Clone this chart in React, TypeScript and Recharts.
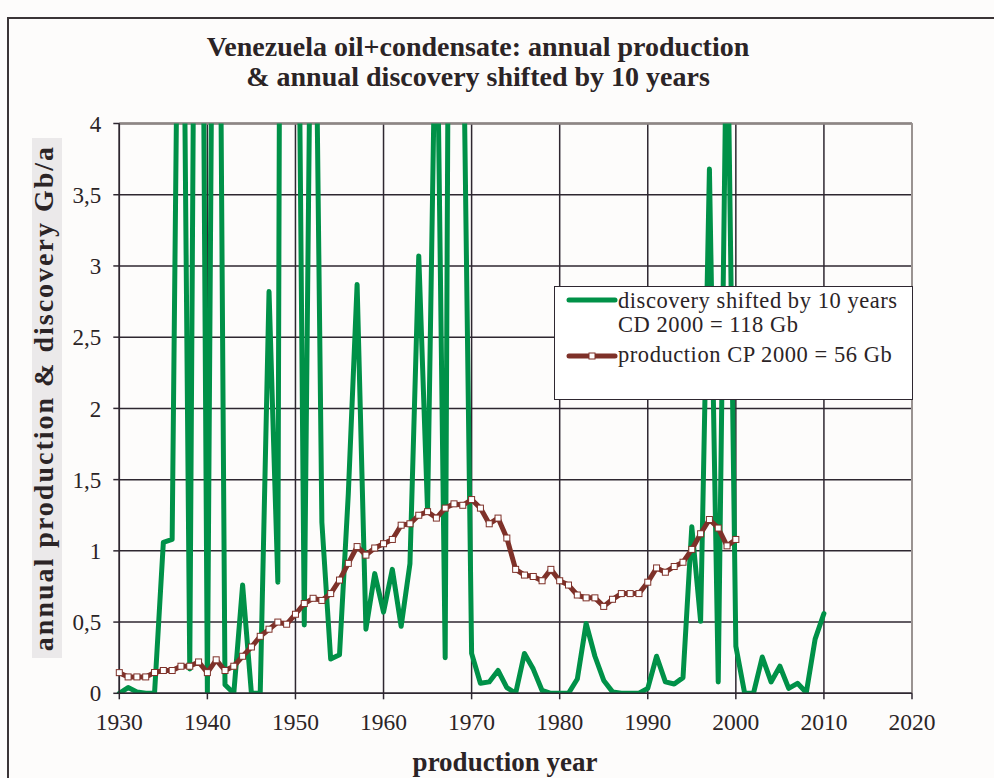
import React from 'react';
import { LineChart, Line, XAxis, YAxis, CartesianGrid, ReferenceLine, Legend } from 'recharts';

const years = [
  1930, 1931, 1932, 1933, 1934, 1935, 1936, 1937, 1938, 1939,
  1940, 1941, 1942, 1943, 1944, 1945, 1946, 1947, 1948, 1949,
  1950, 1951, 1952, 1953, 1954, 1955, 1956, 1957, 1958, 1959,
  1960, 1961, 1962, 1963, 1964, 1965, 1966, 1967, 1968, 1969,
  1970, 1971, 1972, 1973, 1974, 1975, 1976, 1977, 1978, 1979,
  1980, 1981, 1982, 1983, 1984, 1985, 1986, 1987, 1988, 1989,
  1990, 1991, 1992, 1993, 1994, 1995, 1996, 1997, 1998, 1999,
  2000, 2001, 2002, 2003, 2004, 2005, 2006, 2007, 2008, 2009,
  2010,
];

// discovery shifted by 10 years (Gb/a)
const discovery = [
  0.0, 0.04, 0.01, 0.0, 0.0, 1.06, 1.08, 7.2, 0.17, 10.0,
  0.0, 9.0, 0.06, 0.0, 0.76, 0.0, 0.0, 2.82, 0.78, 20.0,
  7.6, 0.48, 6.6, 1.2, 0.24, 0.27, 1.4, 2.87, 0.45, 0.84,
  0.57, 0.87, 0.47, 0.91, 3.07, 1.28, 5.2, 0.25, 13.0, 5.0,
  0.28, 0.07, 0.08, 0.16, 0.04, 0.0, 0.28, 0.17, 0.02, 0.0,
  0.0, 0.0, 0.1, 0.49, 0.26, 0.09, 0.01, 0.0, 0.0, 0.0,
  0.035, 0.26, 0.08, 0.065, 0.11, 1.17, 0.505, 3.68, 0.08, 5.0,
  0.33, 0.0, 0.0, 0.255, 0.08, 0.19, 0.035, 0.07, 0.005, 0.38,
  0.56,
];

// annual production 1930-2000 (Gb/a)
const production = [
  0.145, 0.115, 0.115, 0.115, 0.146, 0.16, 0.16, 0.19, 0.19, 0.22,
  0.145, 0.235, 0.16, 0.19, 0.26, 0.325, 0.4, 0.45, 0.5, 0.485,
  0.555, 0.63, 0.667, 0.652, 0.7, 0.795, 0.912, 1.03, 0.97, 1.02,
  1.05, 1.08, 1.18, 1.19, 1.25, 1.275, 1.23, 1.3, 1.33, 1.32,
  1.36, 1.3, 1.19, 1.23, 1.09, 0.87, 0.83, 0.82, 0.79, 0.87,
  0.79, 0.76, 0.69, 0.67, 0.67, 0.61, 0.66, 0.7, 0.7, 0.7,
  0.78, 0.88, 0.85, 0.89, 0.92, 1.01, 1.12, 1.22, 1.16, 1.035,
  1.08,
];

const xTicks = [1930, 1940, 1950, 1960, 1970, 1980, 1990, 2000, 2010, 2020];
const yTicks = [0, 0.5, 1, 1.5, 2, 2.5, 3, 3.5, 4];

const titleLines = [
  'Venezuela oil+condensate: annual production',
  '& annual discovery shifted by 10 years',
];
const xLabel = 'production year';
const yLabel = 'annual production & discovery Gb/a';
const discoveryLegend = ['discovery shifted by 10 years', 'CD 2000 = 118 Gb'];
const productionLegend = 'production CP 2000 = 56 Gb';

const data = years.map((year, i) => ({
  year,
  discovery: discovery[i],
  production: i < production.length ? production[i] : null,
}));

const SERIF = "'Liberation Serif', 'Times New Roman', Times, serif";
const GREEN = '#009148';
const BROWN = '#7e3129';
const DARK = '#2e2730';
const TEXT = '#2b2426';
const BG = '#fdfcfb';

const SquareDot = (props: any) => {
  const { cx, cy, index } = props;
  if (cx == null || cy == null || Number.isNaN(cx) || Number.isNaN(cy)) {
    return <g key={`sq-${index}`} />;
  }
  return (
    <rect
      key={`sq-${index}`}
      x={cx - 3}
      y={cy - 3}
      width={6}
      height={6}
      fill="#ffffff"
      stroke={BROWN}
      strokeWidth={1}
    />
  );
};

const legendText: React.CSSProperties = {
  position: 'absolute',
  left: 63,
  whiteSpace: 'nowrap',
  fontSize: 22.5,
  lineHeight: '22px',
  height: 22,
  letterSpacing: 0.55,
};

const renderLegend = (props: any) => {
  const payload: any[] = props.payload || [];
  const g = payload.find((p) => p.dataKey === 'discovery') || { color: GREEN };
  const p = payload.find((q) => q.dataKey === 'production') || { color: BROWN };
  return (
    <div
      style={{
        position: 'relative',
        width: 359,
        height: 114,
        boxSizing: 'border-box',
        border: `1.5px solid ${DARK}`,
        background: '#ffffff',
        fontFamily: SERIF,
        color: TEXT,
      }}
    >
      <svg width={60} height={14} style={{ position: 'absolute', left: 10, top: 6 }}>
        <line x1={4} y1={7} x2={50} y2={7} stroke={g.color} strokeWidth={5} strokeLinecap="round" />
      </svg>
      <div style={{ ...legendText, top: 3 }}>{discoveryLegend[0]}</div>
      <div style={{ ...legendText, top: 26.5 }}>{discoveryLegend[1]}</div>
      <svg width={60} height={14} style={{ position: 'absolute', left: 10, top: 62 }}>
        <line x1={4} y1={7} x2={50} y2={7} stroke={p.color} strokeWidth={5} strokeLinecap="round" />
        <rect x={24} y={4} width={6} height={6} fill="#ffffff" stroke={p.color} strokeWidth={1} />
      </svg>
      <div style={{ ...legendText, top: 57 }}>{productionLegend}</div>
    </div>
  );
};

export default function App() {
  return (
    <div
      style={{
        position: 'absolute',
        left: 0,
        top: 0,
        width: 994,
        height: 778,
        overflow: 'hidden',
        background: BG,
      }}
    >
      <style>{`.recharts-line{clip-path:none !important;}`}</style>
      <div style={{ position: 'absolute', left: 0, top: 0, zIndex: 1 }}>
        <LineChart
          width={994}
          height={778}
          data={data}
          margin={{ top: 123.5, right: 82, bottom: 54.7, left: 0 }}
        >
          <CartesianGrid stroke={DARK} strokeWidth={1.5} />
          <XAxis
            dataKey="year"
            type="number"
            domain={[1930, 2020]}
            ticks={xTicks}
            interval={0}
            height={30}
            tickSize={6}
            tickMargin={14}
            axisLine={{ stroke: DARK, strokeWidth: 1.5 }}
            tickLine={{ stroke: DARK, strokeWidth: 1.5 }}
            tick={{ fill: TEXT, fontSize: 23.5, fontFamily: SERIF }}
          />
          <YAxis
            type="number"
            domain={[0, 4]}
            ticks={yTicks}
            interval={0}
            allowDataOverflow
            width={119.3}
            tickSize={6}
            tickMargin={12}
            axisLine={{ stroke: DARK, strokeWidth: 1.5 }}
            tickLine={{ stroke: DARK, strokeWidth: 1.5 }}
            tick={{ fill: TEXT, fontSize: 23, fontFamily: SERIF }}
            tickFormatter={(v: number) => String(v).replace('.', ',')}
          />
          <ReferenceLine y={4} stroke="#8e8684" strokeWidth={2.5} />
          <ReferenceLine x={2020} stroke="#9a9391" strokeWidth={2} />
          <Line
            type="linear"
            dataKey="discovery"
            name="discovery"
            stroke={GREEN}
            strokeWidth={5}
            strokeLinejoin="round"
            strokeLinecap="round"
            dot={false}
            activeDot={false}
            isAnimationActive={false}
          />
          <Line
            type="linear"
            dataKey="production"
            name="production"
            stroke={BROWN}
            strokeWidth={5}
            strokeLinejoin="round"
            dot={SquareDot}
            activeDot={false}
            isAnimationActive={false}
          />
          <Legend
            layout="horizontal"
            verticalAlign="middle"
            align="center"
            content={renderLegend}
            wrapperStyle={{ left: 554, top: 286, width: 359, height: 114 }}
          />
        </LineChart>
      </div>
      {/* cover for the lines that run above the plot top */}
      <div style={{ position: 'absolute', left: 112, top: 0, width: 812, height: 118, background: BG, zIndex: 2 }} />
      {/* frame */}
      <div
        style={{
          position: 'absolute',
          left: 7,
          top: 17,
          width: 1100,
          height: 900,
          borderLeft: '2px solid #3b3537',
          borderTop: '2px solid #3b3537',
          zIndex: 3,
          pointerEvents: 'none',
        }}
      />
      {/* title */}
      <div
        style={{
          position: 'absolute',
          left: -19,
          top: 31.5,
          width: 994,
          textAlign: 'center',
          fontFamily: SERIF,
          fontWeight: 'bold',
          fontSize: 28,
          lineHeight: '30px',
          color: TEXT,
          zIndex: 3,
        }}
      >
        {titleLines[0]}
        <br />
        {titleLines[1]}
      </div>
      {/* x label */}
      <div
        style={{
          position: 'absolute',
          left: 305,
          top: 749.4,
          width: 400,
          textAlign: 'center',
          fontFamily: SERIF,
          fontWeight: 'bold',
          fontSize: 27,
          lineHeight: '27px',
          color: TEXT,
          zIndex: 3,
        }}
      >
        {xLabel}
      </div>
      {/* y label */}
      <div
        style={{
          position: 'absolute',
          left: 47 - 260,
          top: 398 - 15,
          width: 520,
          height: 30,
          transform: 'rotate(-90deg)',
          transformOrigin: '50% 50%',
          textAlign: 'center',
          fontFamily: SERIF,
          fontWeight: 'bold',
          fontSize: 28,
          lineHeight: '24px',
          letterSpacing: 2,
          background: '#ebe9ea',
          color: TEXT,
          whiteSpace: 'nowrap',
          zIndex: 3,
        }}
      >
        {yLabel}
      </div>
    </div>
  );
}
